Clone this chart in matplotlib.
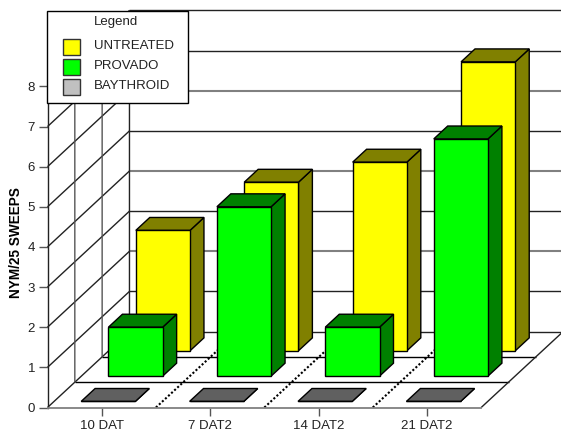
import matplotlib
matplotlib.use("Agg")
import matplotlib.pyplot as plt
from matplotlib.patches import Polygon, Rectangle
from matplotlib.transforms import Affine2D

plt.rcParams['font.family'] = ['Liberation Sans', 'DejaVu Sans']

# Insect counts per treatment and sampling date
categories = ['10 DAT', '7 DAT2', '14 DAT2', '21 DAT2']
untreated = [3.0, 4.2, 4.7, 7.2]
provado = [1.22, 4.22, 1.22, 5.91]
baythroid = [0, 0, 0, 0]
yticks = [0, 1, 2, 3, 4, 5, 6, 7, 8]
treatments = ['UNTREATED', 'PROVADO', 'BAYTHROID']
swatches = ['#FFFF00', '#00FF00', '#C0C0C0']

# Oblique depth: shift per floor row, in x units and y units
ROW_DX = 0.252
ROW_DY = 0.631
ROWS = 3
YMAX = 8
NCAT = len(categories)
FONT = 9.5
W, H = 561, 432


def proj(x, y, d):
    return (x + d * ROW_DX, y + d * ROW_DY)


def line3d(ax, p0, p1, **kw):
    a = proj(*p0)
    b = proj(*p1)
    kw.setdefault('snap', False)
    ln, = ax.plot([a[0], b[0]], [a[1], b[1]], clip_on=False, zorder=1, **kw)
    ln.set_solid_capstyle('butt')
    return ln


def bar3d(ax, x, value, row, face, shade):
    # front, top and side faces of one bar
    x0, x1 = x + 0.25, x + 0.75
    d0, d1 = row + 0.24, row + 0.75
    front = [proj(x0, 0, d0), proj(x1, 0, d0), proj(x1, value, d0), proj(x0, value, d0)]
    top = [proj(x0, value, d0), proj(x1, value, d0), proj(x1, value, d1), proj(x0, value, d1)]
    side = [proj(x1, 0, d0), proj(x1, 0, d1), proj(x1, value, d1), proj(x1, value, d0)]
    for pts, col in ((side, shade), (top, shade), (front, face)):
        ax.add_patch(Polygon(pts, closed=True, facecolor=col, edgecolor='black',
                             linewidth=1.0, clip_on=False, joinstyle='miter', zorder=3))


fig = plt.figure(figsize=(W / 100, H / 100), dpi=100)
ax = fig.add_axes([47.5 / W, (H - 407.5) / H, 433.7 / W, 8 * 40.13 / H])
ax.set_xlim(0, NCAT)
ax.set_ylim(0, YMAX)

# walls
for v in yticks:
    line3d(ax, (0, v, 0), (0, v, ROWS), color='#222222', lw=1.0)
    grey = v in (2, 4, 6)
    line3d(ax, (0, v, ROWS), (NCAT, v, ROWS), color='#808080' if grey else '#222222',
           lw=1.5 if grey else 1.0, snap=True)
for r in range(1, ROWS + 1):
    line3d(ax, (0, 0, r), (0, YMAX, r), color='#555555' if r < ROWS else '#222222', lw=1.0)

# floor
for r in range(1, ROWS):
    line3d(ax, (0, 0, r), (NCAT, 0, r), color='black', lw=1.0, snap=True)
line3d(ax, (NCAT, 0, 0), (NCAT, 0, ROWS), color='#222222', lw=1.0)

# dotted separators between the dates
for i in range(1, NCAT):
    line3d(ax, (i, 0, 0), (i, 0, ROWS), color='black', lw=1.5, linestyle=(0, (1, 1)))

# back to front: untreated, provado, baythroid
for i in range(NCAT):
    bar3d(ax, i, untreated[i], 2, '#FFFF00', '#808000')
for i in range(NCAT):
    bar3d(ax, i, provado[i], 1, '#00FF00', '#008000')
for i in range(NCAT):
    bar3d(ax, i, baythroid[i], 0, '#C0C0C0', '#606060')

ax.set_facecolor('none')
for s in ('top', 'right'):
    ax.spines[s].set_visible(False)
ax.spines['left'].set_color('#222222')
ax.spines['left'].set_linewidth(1.0)
ax.spines['bottom'].set_color('#808080')
ax.spines['bottom'].set_linewidth(1.3)

ax.set_xticks([i + 0.5 for i in range(NCAT)])
ax.set_xticklabels(categories)
ax.set_yticks(yticks)
ax.tick_params(axis='y', labelsize=FONT, length=6.5, width=1.0, color='#555555',
               labelcolor='#222222', pad=2.5)
ax.tick_params(axis='x', labelsize=FONT, length=5.8, width=1.0, color='#555555',
               labelcolor='#222222', pad=3)
ax.set_ylabel('NYM/25 SWEEPS', fontsize=9.8, fontweight='bold', color='black')
ax.yaxis.set_label_coords((23 - 47.5) / 433.7, (407.5 - 242.5) / (8 * 40.13))

# legend box, laid out in pixels from the top left corner of the figure
to_px = Affine2D().scale(1, -1).translate(0, H)
fig.add_artist(Rectangle((46.5, 10.5), 141, 92, transform=to_px, facecolor='white',
                         edgecolor='black', linewidth=1.0, zorder=10))
fig.text(116, 22.5, 'Legend', transform=to_px, fontsize=FONT, color='#222222',
         ha='center', va='center', zorder=11)
for label, col, top in zip(treatments, swatches, (38.5, 58.5, 78.5)):
    fig.add_artist(Rectangle((62.5, top), 17, 16, transform=to_px, facecolor=col,
                             edgecolor='#333333', linewidth=1.0, zorder=11))
    fig.text(94, top + 7.5, label, transform=to_px, fontsize=FONT, color='#222222',
             ha='left', va='center', zorder=11)

fig.savefig('out.png', dpi=100)
